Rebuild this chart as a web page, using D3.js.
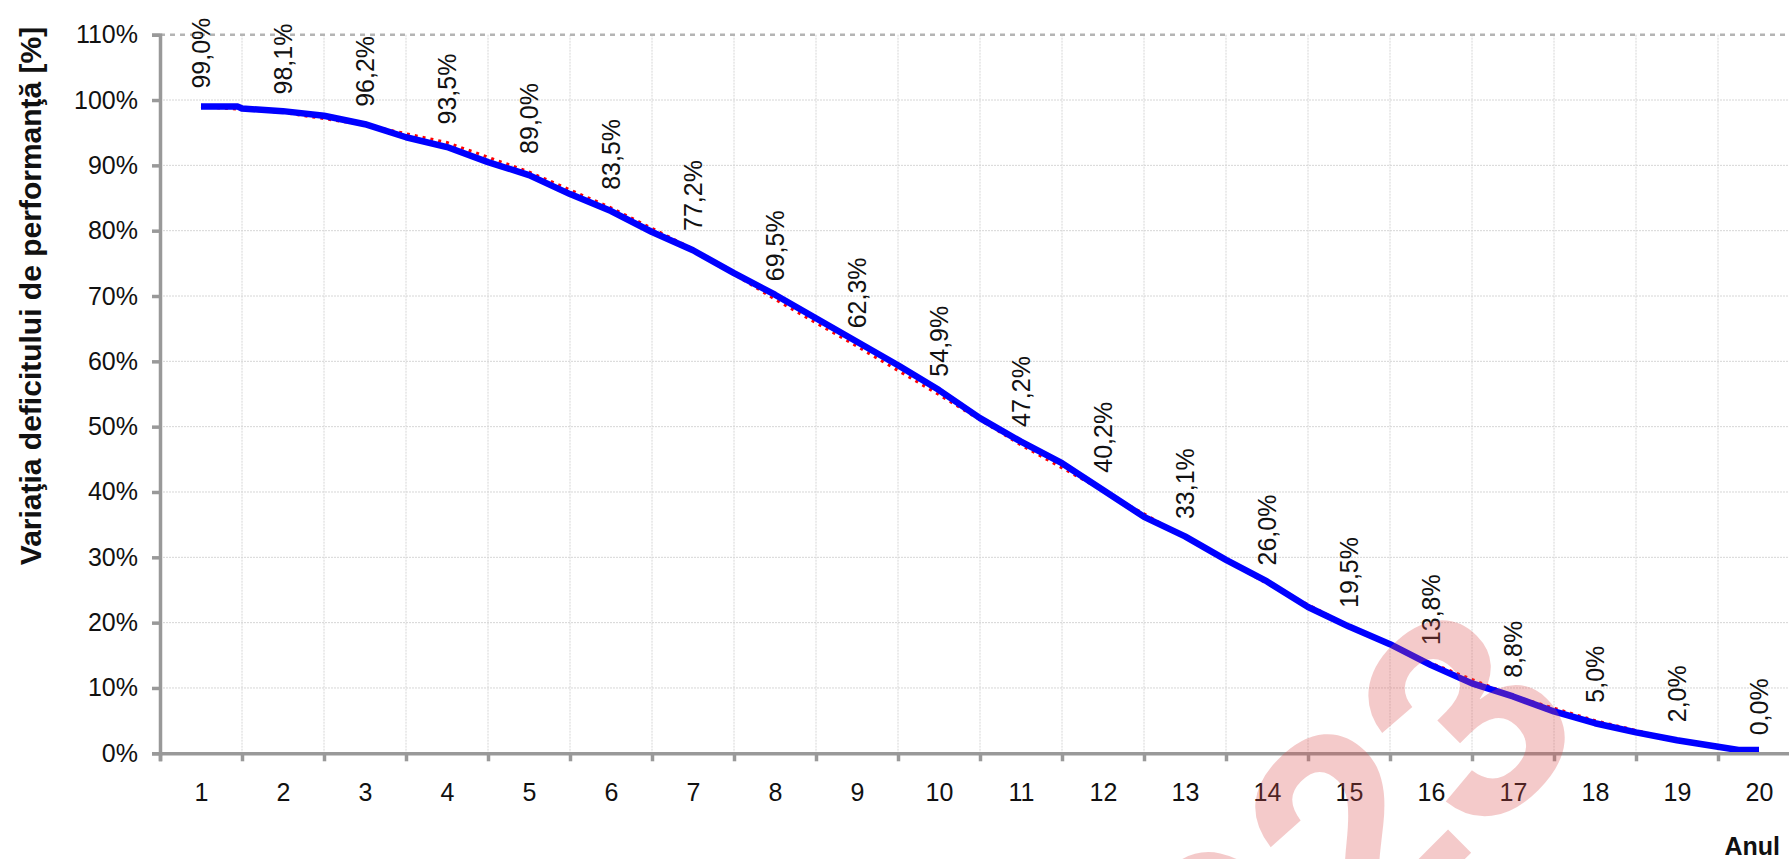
<!DOCTYPE html>
<html><head><meta charset="utf-8">
<script src="https://cdn.jsdelivr.net/npm/d3@7"></script>
<style>
html,body{margin:0;padding:0;background:#fff;overflow:hidden;}
svg{display:block;font-family:"Liberation Sans",Arial,sans-serif;}
</style></head>
<body><svg id="c" width="1789" height="859"></svg>
<script>
// Annual values (labels, red dotted line)
const years = [1,2,3,4,5,6,7,8,9,10,11,12,13,14,15,16,17,18,19,20];
const annualValues = [99.0,98.1,96.2,93.5,89.0,83.5,77.2,69.5,62.3,54.9,47.2,40.2,33.1,26.0,19.5,13.8,8.8,5.0,2.0,0.0];
const annualLabels = ["99,0%","98,1%","96,2%","93,5%","89,0%","83,5%","77,2%","69,5%","62,3%","54,9%","47,2%","40,2%","33,1%","26,0%","19,5%","13,8%","8,8%","5,0%","2,0%","0,0%"];
// Detailed series (blue line)
const detailTime = [1,1.45,1.5,2,2.5,3,3.5,4,4.5,5,5.5,6,6.5,7,7.5,8,8.5,9,9.5,10,10.5,11,11.5,12,12.5,13,13.5,14,14.5,15,15.5,16,16.5,17,17.5,18,18.5,19,19.5,19.75,20];
const detailValues = [99.0,99.0,98.7,98.3,97.6,96.3,94.3,92.8,90.5,88.5,85.6,83.0,79.8,77.0,73.5,70.2,66.6,63.0,59.4,55.6,51.3,47.7,44.4,40.3,36.2,33.2,29.6,26.3,22.4,19.4,16.7,13.5,10.7,8.7,6.4,4.6,3.2,2.0,1.0,0.5,0.5];
const yTicks = [0,10,20,30,40,50,60,70,80,90,100,110];
const yTitle = "Variaţia deficitului de performanţă [%]";
const xTitle = "Anul";
const watermark = "2023";

const svg = d3.select("#c");
const x = d3.scaleLinear().domain([0.5,20.5]).range([160,1800]);
const y = d3.scaleLinear().domain([0,110]).range([753.3,34.7]);
const bounds = d3.range(0.5,21,1);

// grid
const g = svg.append("g");
g.selectAll(".hg").data(yTicks.filter(d=>d>0&&d<110)).join("line")
  .attr("x1",160).attr("x2",1800).attr("y1",d=>y(d)).attr("y2",d=>y(d))
  .attr("stroke","#d6d6d6").attr("stroke-width",1).attr("stroke-dasharray","2,1");
g.selectAll(".vg").data(bounds.slice(1)).join("line")
  .attr("x1",d=>x(d)).attr("x2",d=>x(d)).attr("y1",y(110)).attr("y2",y(0))
  .attr("stroke","#d6d6d6").attr("stroke-width",1).attr("stroke-dasharray","2,1");
g.append("line").attr("x1",160).attr("x2",1800).attr("y1",y(110)).attr("y2",y(110))
  .attr("stroke","#b4b4b4").attr("stroke-width",2.5).attr("stroke-dasharray","5,5");

// red dotted annual line
const line = d3.line().x(d=>x(d[0])).y(d=>y(d[1]));
svg.append("path").datum(years.map((t,i)=>[t,annualValues[i]]))
  .attr("d",line).attr("fill","none").attr("stroke","#ff0000")
  .attr("stroke-width",3).attr("stroke-dasharray","3,5");
// blue detailed line
svg.append("path").datum(detailTime.map((t,i)=>[t,detailValues[i]]))
  .attr("d",line).attr("fill","none").attr("stroke","#0000ff")
  .attr("stroke-width",6.5).attr("stroke-linejoin","round");

// axes
const yAxis = svg.append("g").attr("transform","translate(160,0)")
  .call(d3.axisLeft(y).tickValues(yTicks).tickSize(8).tickFormat(d=>d+"%"));
const xAxis = svg.append("g").attr("transform",`translate(0,${y(0)})`)
  .call(d3.axisBottom(x).tickValues(bounds).tickSize(8).tickFormat(""));
const xLab = svg.append("g").attr("transform",`translate(0,${y(0)})`)
  .call(d3.axisBottom(x).tickValues(years).tickSize(0).tickPadding(30).tickFormat(d=>d));
[yAxis,xAxis].forEach(a=>{
  a.select(".domain").attr("stroke","#999").attr("stroke-width",3.5);
  a.selectAll(".tick line").attr("stroke","#999").attr("stroke-width",3.5);
});
xLab.select(".domain").remove();
yAxis.selectAll(".tick text").attr("font-size",25).attr("fill","#111").attr("x",-22)
  .attr("font-family","Liberation Sans, Arial, sans-serif");
xLab.selectAll(".tick text").attr("font-size",25).attr("fill","#111")
  .attr("font-family","Liberation Sans, Arial, sans-serif");

// data labels
svg.selectAll(".dl").data(years).join("text")
  .attr("transform",(d,i)=>`translate(${x(d)},${y(annualValues[i])-18}) rotate(-90)`)
  .attr("dy","0.35em").attr("font-size",25).attr("fill","#111")
  .text((d,i)=>annualLabels[i]);

// titles
svg.append("text").attr("transform","translate(41,296) rotate(-90)")
  .attr("text-anchor","middle").attr("font-weight","bold").attr("font-size",30)
  .attr("fill","#111").text(yTitle);
svg.append("text").attr("x",1780).attr("y",855).attr("text-anchor","end")
  .attr("font-weight","bold").attr("font-size",25).attr("fill","#111").text(xTitle);

// watermark
const fs = 290;
svg.append("text").attr("transform","translate(1463,714) rotate(-45)")
  .attr("x",0.278*fs).attr("y",0.358*fs).attr("text-anchor","end")
  .attr("font-size",fs).attr("font-weight","bold")
  .attr("fill","rgb(220,80,80)").attr("fill-opacity",0.3)
  .text(watermark);
</script></body></html>
